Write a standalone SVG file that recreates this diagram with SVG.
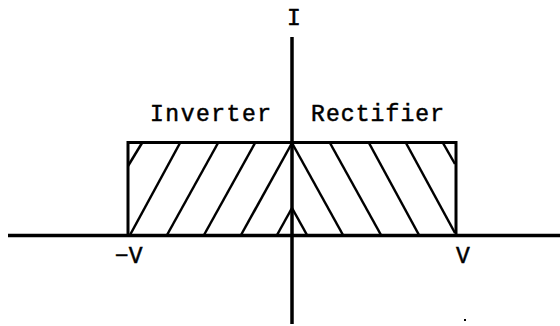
<svg xmlns="http://www.w3.org/2000/svg" width="560" height="326" viewBox="0 0 560 326">
<style>
.ax{stroke:#000;stroke-width:3.5;fill:none;stroke-linecap:butt}
.bx{stroke:#000;stroke-width:3;fill:none}
.h{stroke:#000;stroke-width:2.5;fill:none}
text{font-family:"Liberation Mono","Courier New",monospace;font-size:23px;fill:#000;stroke:#000;stroke-width:0.5}
</style>
<rect width="560" height="326" fill="#fff"/>
<g id="region">
<rect class="bx" x="128" y="142.5" width="328" height="93"/>
<g id="hatch-inverter">
<line class="h" x1="142" y1="143" x2="128" y2="166"/>
<line class="h" x1="180" y1="143" x2="130" y2="235"/>
<line class="h" x1="218" y1="143" x2="167" y2="235"/>
<line class="h" x1="255" y1="143" x2="204" y2="235"/>
<line class="h" x1="292" y1="143" x2="241" y2="235"/>
<line class="h" x1="292" y1="208" x2="277" y2="235"/>
</g>
<g id="hatch-rectifier">
<line class="h" x1="292" y1="143" x2="343" y2="235"/>
<line class="h" x1="330" y1="143" x2="381" y2="235"/>
<line class="h" x1="369" y1="143" x2="419" y2="235"/>
<line class="h" x1="406" y1="143" x2="455" y2="233"/>
<line class="h" x1="443" y1="143" x2="455" y2="164"/>
<line class="h" x1="292" y1="208" x2="307" y2="235"/>
</g>
</g>
<g id="connectors">
<line class="ax" x1="8" y1="235.5" x2="560" y2="235.5"/>
<line class="ax" x1="292" y1="37" x2="292" y2="324"/>
</g>
<g id="labels">
<text x="294" y="25" text-anchor="middle">I</text>
<text x="150" y="121" textLength="121" lengthAdjust="spacing">Inverter</text>
<text x="311" y="121" textLength="133" lengthAdjust="spacing">Rectifier</text>
<text x="115" y="263">−V</text>
<text x="463" y="263" text-anchor="middle">V</text>
</g>
<rect x="464" y="319" width="2" height="2" fill="#000"/>
</svg>
